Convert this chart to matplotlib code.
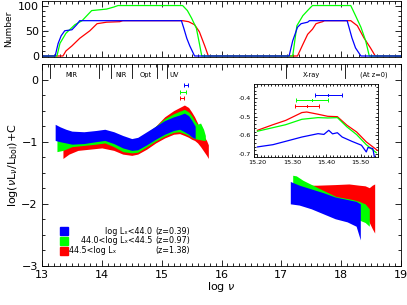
import matplotlib
matplotlib.use("Agg")
import matplotlib.pyplot as plt
from matplotlib.ticker import MultipleLocator, FormatStrFormatter

plt.rcParams['font.family'] = ['DejaVu Sans']
plt.rcParams['mathtext.fontset'] = 'dejavusans'
plt.rcParams['axes.unicode_minus'] = True

BLUE, GREEN, RED = '#0000ff', '#00ff00', '#ff0000'

# ---------------- top panel: number of objects ----------------
nb_x = [13.0, 13.22, 13.27, 13.32, 13.38, 13.5, 13.58, 13.63, 15.33, 15.37, 15.42, 15.47, 15.55,
        17.13, 17.19, 17.27, 17.33, 17.44, 17.47, 18.1, 18.18, 18.24, 18.33, 19.0]
nb_y = [0, 0, 25, 40, 50, 52, 62, 70, 70, 55, 35, 20, 0,
        0, 30, 57, 64, 67, 70, 70, 36, 16, 0, 0]
ng_x = [13.0, 13.25, 13.3, 13.4, 13.55, 13.67, 13.75, 13.83, 14.08, 14.2, 14.27, 15.35, 15.43, 15.5,
        15.58, 15.63, 15.67, 17.19, 17.26, 17.36, 17.47, 17.52, 18.16, 18.24, 18.33, 18.41, 18.47, 19.0]
ng_y = [0, 0, 25, 45, 62, 70, 80, 90, 93, 97, 100, 100, 90, 75,
        55, 25, 0, 0, 60, 80, 94, 100, 100, 80, 57, 30, 0, 0]
nr_x = [13.0, 13.35, 13.4, 13.5, 13.63, 13.8, 13.92, 14.08, 14.3, 14.35, 15.35, 15.45, 15.55, 15.63,
        15.72, 15.78, 17.27, 17.36, 17.44, 17.52, 17.58, 17.63, 17.69, 17.72, 18.16, 18.27, 18.38,
        18.49, 18.57, 19.0]
nr_y = [0, 0, 10, 20, 35, 50, 64, 67, 68, 70, 70, 68, 62, 48,
        20, 0, 0, 23, 43, 53, 64, 66, 68, 70, 70, 60, 36,
        16, 0, 0]

# ---------------- main panel: SED bands (upper / lower envelopes) ----------------
# IR-UV
b_ir_x = [13.22, 13.3, 13.4, 13.5, 13.7, 13.9, 14.05, 14.2, 14.35, 14.5, 14.6, 14.75, 14.9, 15.05,
          15.2, 15.3, 15.38, 15.45, 15.5, 15.56]
b_ir_hi = [-0.72, -0.76, -0.8, -0.83, -0.84, -0.82, -0.8, -0.84, -0.9, -0.95, -0.93, -0.84, -0.75, -0.66,
           -0.6, -0.57, -0.54, -0.58, -0.65, -0.75]
b_ir_lo = [-0.98, -1.0, -1.02, -1.04, -1.03, -1.0, -0.98, -1.03, -1.1, -1.14, -1.13, -1.05, -0.96, -0.88,
           -0.82, -0.8, -0.84, -0.88, -0.92, -0.95]
g_ir_x = [13.25, 13.35, 13.5, 13.7, 13.9, 14.05, 14.2, 14.35, 14.5, 14.6, 14.75, 14.9, 15.05, 15.2,
          15.3, 15.38, 15.45, 15.5, 15.55, 15.6, 15.65, 15.7, 15.73]
g_ir_hi = [-0.94, -0.9, -0.88, -0.88, -0.86, -0.84, -0.88, -0.94, -0.98, -0.96, -0.86, -0.75, -0.63, -0.55,
           -0.51, -0.48, -0.52, -0.58, -0.66, -0.72, -0.7, -0.8, -0.9]
g_ir_lo = [-1.16, -1.14, -1.08, -1.06, -1.04, -1.02, -1.08, -1.16, -1.18, -1.17, -1.08, -0.99, -0.91, -0.85,
           -0.84, -0.87, -0.9, -0.93, -0.95, -0.96, -0.97, -0.98, -0.98]
r_ir_x = [13.35, 13.45, 13.6, 13.8, 14.0, 14.2, 14.35, 14.5, 14.6, 14.75, 14.9, 15.05, 15.2, 15.3,
          15.38, 15.45, 15.5, 15.55, 15.6, 15.65, 15.7, 15.75, 15.78]
r_ir_hi = [-1.1, -1.05, -1.0, -0.98, -0.96, -0.98, -1.02, -1.06, -1.02, -0.9, -0.75, -0.6, -0.5, -0.45,
           -0.41, -0.45, -0.52, -0.6, -0.7, -0.8, -0.9, -0.98, -1.05]
r_ir_lo = [-1.27, -1.2, -1.14, -1.12, -1.1, -1.14, -1.2, -1.22, -1.2, -1.12, -1.02, -0.94, -0.88, -0.87,
           -0.9, -0.93, -0.96, -0.98, -1.02, -1.08, -1.15, -1.22, -1.27]
# X-ray
b_x_x = [17.15, 17.3, 17.5, 17.7, 17.9, 18.1, 18.25, 18.32]
b_x_hi = [-1.64, -1.7, -1.76, -1.82, -1.89, -1.93, -1.96, -2.0]
b_x_lo = [-2.0, -2.02, -2.08, -2.16, -2.24, -2.29, -2.36, -2.58]
g_x_x = [17.19, 17.25, 17.36, 17.63, 17.91, 18.19, 18.3, 18.4, 18.47]
g_x_hi = [-1.54, -1.55, -1.62, -1.75, -1.88, -1.93, -1.96, -2.0, -2.08]
g_x_lo = [-1.9, -1.95, -2.0, -2.1, -2.2, -2.25, -2.26, -2.3, -2.36]
r_x_x = [17.36, 17.6, 17.9, 18.13, 18.3, 18.4, 18.47, 18.52, 18.56]
r_x_hi = [-1.70, -1.70, -1.69, -1.68, -1.70, -1.71, -1.74, -1.70, -1.68]
r_x_lo = [-1.85, -1.88, -1.92, -1.94, -1.98, -2.15, -2.3, -2.4, -2.47]

# error bars (UV peak position)
eb_x = [15.405, 15.359, 15.343]
eb_xlo = [15.366, 15.313, 15.308]
eb_xhi = [15.446, 15.405, 15.380]
eb_main_y = [-0.09, -0.2, -0.3]
eb_inset_y = [-0.382, -0.409, -0.443]

# bands
band_edges = [13.13, 13.95, 14.15, 14.51, 14.93, 15.09, 17.08, 18.06]
band_names = ['MIR', 'NIR', 'Opt', 'UV', 'X-ray', '(At z=0)']
band_pos = [13.5, 14.32, 14.73, 15.2, 17.5, 18.55]

# legend
leg_labels = ['log L\u2093<44.0', '44.0<log L\u2093<44.5', '44.5<log L\u2093']
leg_z = ['(z=0.39)', '(z=0.97)', '(z=1.38)']

# inset medians
in_x = [15.20, 15.245, 15.282, 15.329, 15.343, 15.376, 15.404, 15.432, 15.46, 15.488, 15.516, 15.548]
in_r = [-0.573, -0.543, -0.52, -0.478, -0.475, -0.487, -0.498, -0.50, -0.546, -0.582, -0.635, -0.68]
in_gx = [15.20, 15.282, 15.329, 15.376, 15.404, 15.432, 15.46, 15.488, 15.516, 15.545]
in_g = [-0.578, -0.543, -0.514, -0.505, -0.507, -0.505, -0.555, -0.596, -0.65, -0.693]
in_bx = [15.20, 15.245, 15.282, 15.329, 15.376, 15.393, 15.407, 15.418, 15.432, 15.446, 15.474, 15.502,
         15.516, 15.521, 15.535, 15.54]
in_b = [-0.662, -0.65, -0.632, -0.609, -0.591, -0.595, -0.573, -0.592, -0.586, -0.609, -0.632, -0.653,
        -0.689, -0.665, -0.671, -0.72]

fig = plt.figure(figsize=(4.07, 3.05), dpi=100)
W, H = 407, 305


def px_axes(x0, y0, x1, y1):
    return fig.add_axes([x0 / W, 1 - y1 / H, (x1 - x0) / W, (y1 - y0) / H])


def style(ax, lw=0.6):
    ax.tick_params(which='both', direction='in', top=True, right=True, width=0.6)
    ax.tick_params(which='major', length=4)
    ax.tick_params(which='minor', length=2)
    for s in ax.spines.values():
        s.set_linewidth(lw)


# top panel
axt = px_axes(42, 1, 401, 57)
axt.plot(nr_x, nr_y, color=RED, lw=0.9)
axt.plot(ng_x, ng_y, color=GREEN, lw=0.9)
axt.plot(nb_x, nb_y, color=BLUE, lw=0.9)
axt.set_xlim(13, 19)
axt.set_ylim(-2, 109)
axt.set_yticks([0, 50, 100])
axt.yaxis.set_minor_locator(MultipleLocator(10))
axt.xaxis.set_major_locator(MultipleLocator(1))
axt.xaxis.set_minor_locator(MultipleLocator(0.1))
axt.set_xticklabels([])
style(axt)
axt.tick_params(labelsize=8, pad=2)
axt.set_ylabel('Number', fontsize=6.5, labelpad=4)

# main panel
ax = px_axes(42, 64, 401, 266)
for xs, lo, hi, c in [(r_ir_x, r_ir_lo, r_ir_hi, RED), (g_ir_x, g_ir_lo, g_ir_hi, GREEN),
                      (b_ir_x, b_ir_lo, b_ir_hi, BLUE), (r_x_x, r_x_lo, r_x_hi, RED),
                      (g_x_x, g_x_lo, g_x_hi, GREEN), (b_x_x, b_x_lo, b_x_hi, BLUE)]:
    ax.fill_between(xs, lo, hi, color=c, lw=0)
for i, c in enumerate([BLUE, GREEN, RED]):
    ax.errorbar([eb_x[i]], [eb_main_y[i]], xerr=[[eb_x[i] - eb_xlo[i]], [eb_xhi[i] - eb_x[i]]],
                fmt='none', ecolor=c, elinewidth=0.7, capsize=1.5, capthick=0.7)
for e in band_edges:
    ax.plot([e, e], [0.25, 0.025], color='black', lw=0.6)
for n, p in zip(band_names, band_pos):
    ax.text(p, 0.075, n, fontsize=4.8, ha='center', va='center')
ax.set_xlim(13, 19)
ax.set_ylim(-3, 0.25)
ax.xaxis.set_major_locator(MultipleLocator(1))
ax.xaxis.set_minor_locator(MultipleLocator(0.1))
ax.yaxis.set_major_locator(MultipleLocator(1))
ax.yaxis.set_minor_locator(MultipleLocator(0.25))
style(ax)
ax.tick_params(labelsize=8, pad=3)
ax.set_xlabel(r'log $\nu$', fontsize=8, labelpad=0)
ax.set_ylabel(r'log($\nu$L$_\nu$/L$_{\rm bol}$)+C', fontsize=8, labelpad=1)

# legend
for i, (c, lab, z) in enumerate(zip([BLUE, GREEN, RED], leg_labels, leg_z)):
    yf = [0.172, 0.124, 0.076][i]
    ax.plot([0.06], [yf], marker='s', ms=5.5, color=c, transform=ax.transAxes, clip_on=False)
    if i < 2:
        ax.text(0.307, yf, lab, transform=ax.transAxes, fontsize=5.8, va='center', ha='right')
    else:
        ax.text(0.074, yf, lab, transform=ax.transAxes, fontsize=5.8, va='center', ha='left')
    ax.text(0.315, yf, z, transform=ax.transAxes, fontsize=5.8, va='center')

# inset
axi = px_axes(254, 84, 378, 157)
axi.plot(in_x, in_r, color=RED, lw=0.9)
axi.plot(in_gx, in_g, color=GREEN, lw=0.9)
axi.plot(in_bx, in_b, color=BLUE, lw=0.9)
for i, c in enumerate([BLUE, GREEN, RED]):
    axi.errorbar([eb_x[i]], [eb_inset_y[i]], xerr=[[eb_x[i] - eb_xlo[i]], [eb_xhi[i] - eb_x[i]]],
                 fmt='none', ecolor=c, elinewidth=0.7, capsize=1.5, capthick=0.7)
    axi.plot([eb_x[i], eb_x[i]], [eb_inset_y[i] - 0.006, eb_inset_y[i] + 0.006], color=c, lw=0.7)
axi.set_xlim(15.19, 15.55)
axi.set_ylim(-0.716, -0.325)
axi.xaxis.set_major_locator(MultipleLocator(0.1))
axi.xaxis.set_minor_locator(MultipleLocator(0.01))
axi.yaxis.set_major_locator(MultipleLocator(0.1))
axi.yaxis.set_minor_locator(MultipleLocator(0.02))
axi.xaxis.set_major_formatter(FormatStrFormatter('%.2f'))
axi.yaxis.set_major_formatter(FormatStrFormatter('%.1f'))
style(axi)
axi.tick_params(which='major', length=2.5)
axi.tick_params(which='minor', length=1.2)
axi.tick_params(labelsize=4.6, pad=2)

fig.savefig('out.png', dpi=100)
